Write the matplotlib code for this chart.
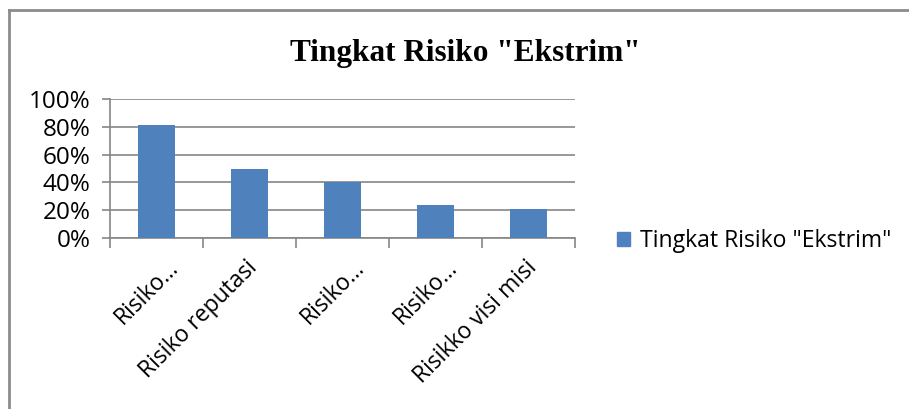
import matplotlib
matplotlib.use("Agg")
import matplotlib.pyplot as plt
from matplotlib.patches import Patch
from matplotlib.lines import Line2D
from matplotlib.ticker import FixedLocator, PercentFormatter
from matplotlib.transforms import ScaledTranslation

categories = ["Risiko…", "Risiko reputasi", "Risiko…", "Risiko…", "Risikko visi misi"]
values = [0.81, 0.50, 0.40, 0.24, 0.21]
series_name = 'Tingkat Risiko "Ekstrim"'
title = 'Tingkat Risiko "Ekstrim"'
yticks = [0, 0.2, 0.4, 0.6, 0.8, 1.0]

W, H = 909, 409
fig = plt.figure(figsize=(W / 100, H / 100), dpi=100)
fig.patch.set_facecolor("white")

font = ["Open Sans", "DejaVu Sans"]
gray = "#868686"
blue = "#4F81BD"

ax = fig.add_axes([110 / W, 1 - 238 / H, (575 - 110) / W, (238 - 99) / H])
x = list(range(len(categories)))
ax.bar(x, values, width=0.4, color=blue, zorder=3)
ax.set_xlim(-0.5, len(categories) - 0.5)
ax.set_ylim(0, 1.0)
ax.yaxis.set_major_locator(FixedLocator(yticks))
ax.yaxis.set_major_formatter(PercentFormatter(1.0, decimals=0))
ax.grid(axis="y", color=gray, linewidth=1.2, zorder=0)
for s in ["top", "right"]:
    ax.spines[s].set_visible(False)
for s in ["left", "bottom"]:
    ax.spines[s].set_color(gray)
    ax.spines[s].set_linewidth(1.2)

ax.set_xticks(x)
ax.set_xticklabels(categories, rotation=45, ha="right", va="top",
                   rotation_mode="anchor", fontfamily=font, fontsize=16.5)
ax.tick_params(axis="x", which="major", length=0, pad=13)
ax.set_xticks([i - 0.5 for i in range(len(categories) + 1)], minor=True)
ax.tick_params(axis="x", which="minor", length=7, color=gray, width=1.2)
ax.tick_params(axis="y", length=6, color=gray, width=1.2, pad=8)
for lbl in ax.get_yticklabels():
    lbl.set_fontfamily(font)
    lbl.set_fontsize(17.5)

# short (truncated) labels sit a bit further right, as in the reference
for lbl in ax.get_xticklabels():
    dx = 10 if len(lbl.get_text()) < 10 else -4
    lbl.set_transform(lbl.get_transform() + ScaledTranslation(dx / 100, 0, fig.dpi_scale_trans))

fig.text(465 / W, 1 - 53 / H, title, ha="center", va="center",
         fontfamily=["Liberation Serif", "DejaVu Serif"], fontweight="bold", fontsize=22.5)

handle = Patch(facecolor=blue, edgecolor=blue)
fig.legend([handle], [series_name], loc="center left",
           bbox_to_anchor=(605 / W, 1 - 241 / H), frameon=False,
           prop={"family": font, "size": 16.6}, handlelength=0.6, handleheight=0.6,
           handletextpad=0.4, borderpad=0)

# chart border (left and top)
fig.add_artist(Line2D([9 / W, 9 / W], [0, 1 - 10 / H], color="#8c8c8c", linewidth=2,
                      transform=fig.transFigure))
fig.add_artist(Line2D([9 / W, 1], [1 - 10 / H, 1 - 10 / H], color="#8c8c8c", linewidth=2,
                      transform=fig.transFigure))

fig.savefig("out.png", dpi=100, facecolor="white")
